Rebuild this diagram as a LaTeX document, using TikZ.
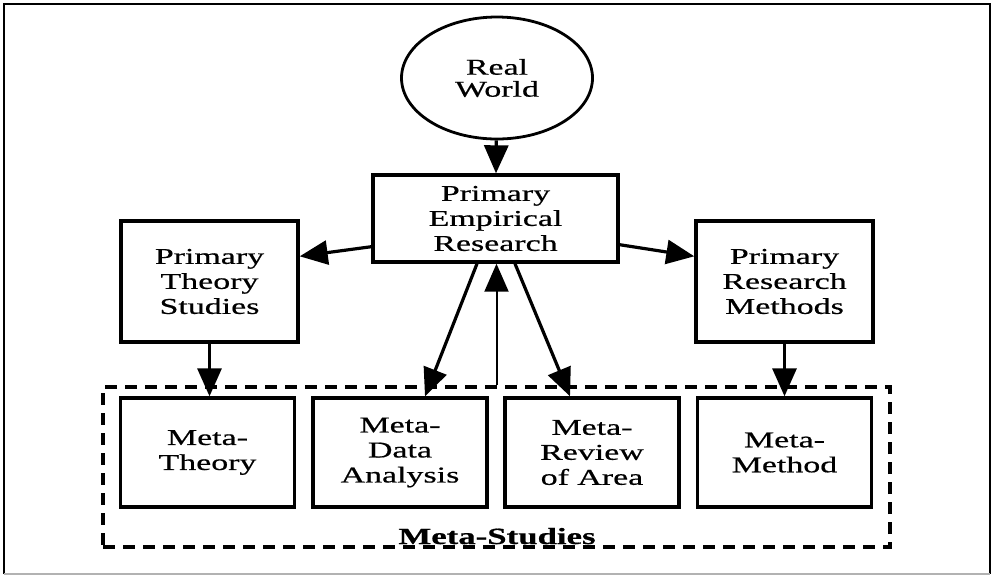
\documentclass[tikz,border=0pt]{standalone}
\usepackage{fontspec}
\setmainfont{Liberation Serif}[FakeStretch=1.5,FakeBold=0.6]
\usetikzlibrary{arrows.meta,shapes.geometric,calc}

\begin{document}
\begin{tikzpicture}[x=0.5pt,y=-0.5pt,
    txt/.style={align=center,inner sep=0pt,font=\fontsize{11.3}{12.5}\selectfont},
    box/.style={txt,draw,line width=1.7pt},
    primbox/.style={box,minimum width=88.5pt,minimum height=60.5pt},
    metabox/.style={box,minimum width=87pt,minimum height=54.5pt},
    arr/.style={line width=1.6pt,-{Triangle[length=14pt,width=12pt]}}]
  \useasboundingbox (0,0) rectangle (995,575);
  % outer frame
  \draw[line width=0.8pt] (4,574) -- (4,4) -- (990,4) -- (990,574);
  \draw[line width=0.8pt,black!30] (4,574) -- (990,574);

  \node[txt,draw,ellipse,line width=1.4pt,minimum width=95.5pt,minimum height=61pt,
    font=\fontsize{11.3}{11}\selectfont] (world) at (497,78) {Real\\World};
  \node[box,minimum width=122.5pt,minimum height=43.5pt] (emp) at (495.5,218.5)
    {Primary\\Empirical\\Research};
  \node[primbox] (theory) at (209.5,281.5) {Primary\\Theory\\Studies};
  \node[primbox] (methods) at (784.5,281.5) {Primary\\Research\\Methods};

  % meta-studies
  \node[draw,line width=1.7pt,dash pattern=on 6pt off 4pt,
    minimum width=393.5pt,minimum height=80pt] (meta) at (496.5,467) {};
  \node[anchor=base,font=\bfseries\fontsize{11.6}{12}\selectfont] (metalabel)
    at (497,544) {Meta-Studies};
  \node[metabox] (mtheory) at (207.5,452.5) {Meta-\\Theory};
  \node[metabox] (mdata) at (400,452.5) {Meta-\\Data\\Analysis};
  \node[metabox] (mreview) at (592,452.5) {Meta-\\Review\\of Area};
  \node[metabox] (mmethod) at (784.5,452.5) {Meta-\\Method};

  \begin{scope}[arr]
    \draw (world) to (emp);
    \draw ($(emp.south west)+(0,-17)$) to ($(theory.north east)+(0,37)$);
    \draw ($(emp.south east)+(0,-19)$) to ($(methods.north west)+(0,37)$);
    \draw ($(emp.south)+(-18.5,0)$) to ($(mdata.north)+(25,0)$);
    \draw ($(emp.south)+(19.5,0)$) to ($(mreview.north)+(-22,0)$);
    \draw (theory.south) to (theory.south |- mtheory.north);
    \draw (methods.south) to (methods.south |- mmethod.north);
    \draw[line width=1pt] (meta.north) to (meta.north |- emp.south);
  \end{scope}
\end{tikzpicture}
\end{document}
